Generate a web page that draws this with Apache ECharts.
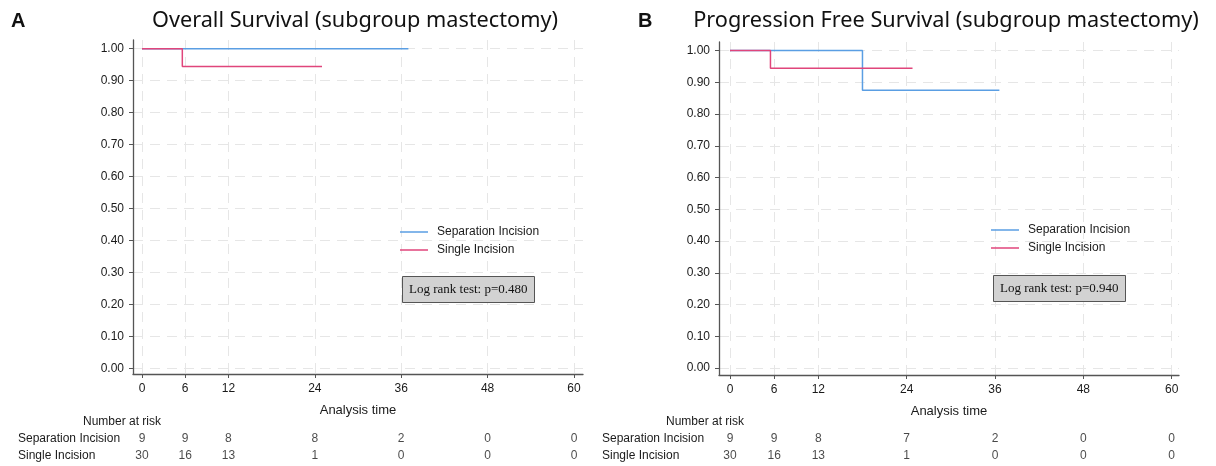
<!DOCTYPE html>
<html><head><meta charset="utf-8">
<script src="https://cdn.jsdelivr.net/npm/echarts@6/dist/echarts.min.js"></script>
<style>html,body{margin:0;padding:0;background:#fff}#c{width:1216px;height:466px}</style>
</head><body><div id="c"></div><script>
// ---- data ----
const timeTicks = [0, 6, 12, 24, 36, 48, 60];
const survTicks = [0, 0.1, 0.2, 0.3, 0.4, 0.5, 0.6, 0.7, 0.8, 0.9, 1.0];
const groups = ['Separation Incision', 'Single Incision'];
const osSeparation = [[0, 1], [37, 1]];
const osSingle = [[0, 1], [5.6, 0.944], [25, 0.944]];
const pfsSeparation = [[0, 1], [18, 0.875], [36.6, 0.875]];
const pfsSingle = [[0, 1], [5.5, 0.944], [24.8, 0.944]];
const osRiskSeparation = [9, 9, 8, 8, 2, 0, 0];
const osRiskSingle = [30, 16, 13, 1, 0, 0, 0];
const pfsRiskSeparation = [9, 9, 8, 7, 2, 0, 0];
const pfsRiskSingle = [30, 16, 13, 1, 0, 0, 0];
const panelTitles = ['Overall Survival (subgroup mastectomy)', 'Progression Free Survival (subgroup mastectomy)'];
const panelLetters = ['A', 'B'];
const logRankTexts = ['Log rank test: p=0.480', 'Log rank test: p=0.940'];

// ---- layout ----
const colors = ['#5a9ee3', '#e0457b'];
const panels = [
  {left: 133, width: 450, top: 40, height: 334, xMin: -1.25, xMax: 61.25, yMin: -0.0166, yMax: 1.027,
   legendLeft: 400, legendTop: 225, boxLeft: 402, boxTop: 276, titleX: 355, letterX: 11, riskLabelX: 161,
   curves: [osSeparation, osSingle], risk: [osRiskSeparation, osRiskSingle]},
  {left: 719, width: 460, top: 42, height: 333, xMin: -1.49, xMax: 61, yMin: -0.022, yMax: 1.027,
   legendLeft: 991, legendTop: 223, boxLeft: 993, boxTop: 275, titleX: 946, letterX: 638, riskLabelX: 744,
   curves: [pfsSeparation, pfsSingle], risk: [pfsRiskSeparation, pfsRiskSingle]}
];

const axisCol = '#555';
const txtCol = '#1a1a1a';
const sans = 'Liberation Sans, Arial, sans-serif';
const grid = [], xAxis = [], yAxis = [], series = [], legend = [], title = [], graphic = [];

panels.forEach((p, i) => {
  // main plot grid
  grid.push({left: p.left, top: p.top, width: p.width, height: p.height, containLabel: false});
  xAxis.push({
    type: 'value', gridIndex: 2 * i, min: p.xMin, max: p.xMax,
    axisLine: {show: true, onZero: false, lineStyle: {color: axisCol, width: 1.3}},
    axisTick: {show: true, length: 4, customValues: timeTicks, lineStyle: {color: axisCol, width: 1}},
    axisLabel: {customValues: timeTicks, margin: 9, fontSize: 12, color: txtCol, fontFamily: sans},
    splitLine: {show: true, lineStyle: {color: '#e6e6e6', width: 1, type: [10, 7]}},
    name: 'Analysis time', nameLocation: 'middle', nameGap: 30,
    nameTextStyle: {fontSize: 13, color: txtCol, fontFamily: sans}
  });
  yAxis.push({
    type: 'value', gridIndex: 2 * i, min: p.yMin, max: p.yMax,
    axisLine: {show: true, onZero: false, lineStyle: {color: axisCol, width: 1.3}},
    axisTick: {show: true, length: 4, customValues: survTicks, lineStyle: {color: axisCol, width: 1}},
    axisLabel: {customValues: survTicks, margin: 9, fontSize: 12, color: txtCol, fontFamily: sans,
      formatter: v => v.toFixed(2)},
    splitLine: {show: true, lineStyle: {color: '#e6e6e6', width: 1, type: [10, 7]}}
  });
  // risk table grid
  grid.push({left: p.left, top: 430, width: p.width, height: 34});
  xAxis.push({type: 'value', gridIndex: 2 * i + 1, min: p.xMin, max: p.xMax, show: false});
  yAxis.push({
    type: 'category', gridIndex: 2 * i + 1, data: groups, inverse: true,
    axisLine: {show: false}, axisTick: {show: false}, splitLine: {show: false},
    axisLabel: {align: 'left', margin: p.left - (i === 0 ? 18 : 602), fontSize: 12, color: txtCol, fontFamily: sans}
  });

  groups.forEach((g, k) => {
    series.push({
      name: g, type: 'line', step: 'end', xAxisIndex: 2 * i, yAxisIndex: 2 * i,
      data: p.curves[k], symbol: 'none', showSymbol: false,
      lineStyle: {color: colors[k], width: 1.5}, itemStyle: {color: colors[k]},
      z: 3 + k
    });
    series.push({
      type: 'scatter', xAxisIndex: 2 * i + 1, yAxisIndex: 2 * i + 1,
      data: timeTicks.map((t, j) => [t, g, p.risk[k][j]]),
      symbolSize: 1, itemStyle: {color: 'rgba(0,0,0,0)'},
      label: {show: true, position: 'inside', formatter: d => String(d.value[2]),
        fontSize: 12, color: txtCol, fontFamily: sans},
      silent: true
    });
  });

  legend.push({
    data: groups, orient: 'vertical', left: p.legendLeft, top: p.legendTop, padding: 0,
    icon: 'rect', itemWidth: 28, itemHeight: 1.5, itemGap: 4, selectedMode: false,
    textStyle: {fontSize: 12, color: txtCol, fontFamily: sans, padding: [0, 0, 0, 4], lineHeight: 14}
  });

  title.push({
    text: logRankTexts[i], left: p.boxLeft, top: p.boxTop,
    padding: [6, 7, 6, 7], backgroundColor: '#d2d2d2', borderColor: '#555', borderWidth: 1,
    textStyle: {fontFamily: 'Liberation Serif, Times New Roman, serif', fontSize: 13, fontWeight: 'normal', color: '#111', lineHeight: 15}
  });

  graphic.push({type: 'text', left: p.letterX, top: 11,
    style: {text: panelLetters[i], fontFamily: sans, fontSize: 20, fontWeight: 'bold', fill: '#111'}});
  graphic.push({type: 'text', x: p.titleX, y: 21,
    style: {text: panelTitles[i], fontFamily: 'Noto Sans, sans-serif', fontSize: 21.7, fill: '#111',
      align: 'center', verticalAlign: 'middle'}});
  graphic.push({type: 'text', x: p.riskLabelX, y: 422,
    style: {text: 'Number at risk', fontFamily: sans, fontSize: 12, fill: txtCol,
      align: 'right', verticalAlign: 'middle'}});
});

const chart = echarts.init(document.getElementById('c'), null, {renderer: 'canvas'});
chart.setOption({animation: false, backgroundColor: '#fff', grid, xAxis, yAxis, series, legend, title, graphic});
</script></body></html>
